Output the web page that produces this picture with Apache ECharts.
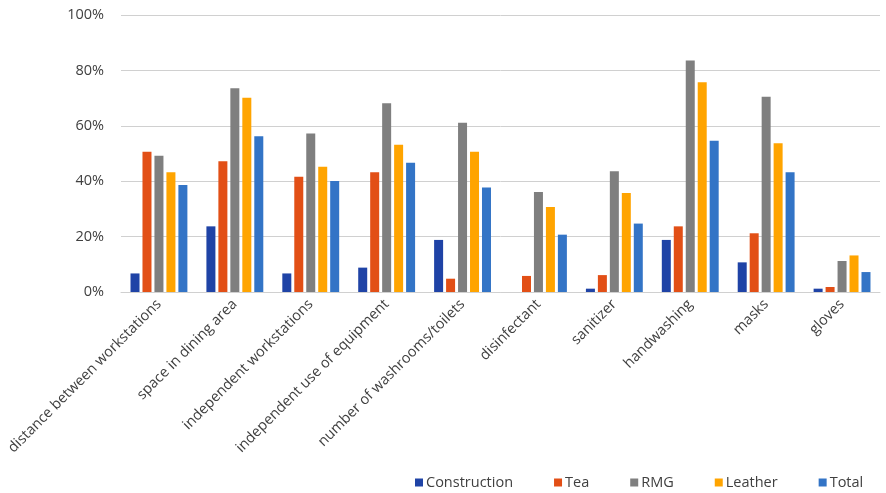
<!DOCTYPE html>
<html><head><meta charset="utf-8">
<script src="https://cdn.jsdelivr.net/npm/echarts@6/dist/echarts.min.js"></script>
<style>html,body{margin:0;padding:0;background:#fff}#c{width:886px;height:493px}</style>
</head><body><div id="c"></div>
<script>
const categories = ["distance between workstations","space in dining area","independent workstations","independent use of equipment","number of washrooms/toilets","disinfectant","sanitizer","handwashing","masks","gloves"];
const construction = [6.7, 23.7, 6.7, 8.8, 18.8, 0, 1.2, 18.8, 10.7, 1.2];
const tea = [50.6, 47.2, 41.6, 43.2, 4.8, 5.8, 6.1, 23.7, 21.2, 1.8];
const rmg = [49.2, 73.6, 57.2, 68.1, 61.1, 36.1, 43.6, 83.6, 70.5, 11.2];
const leather = [43.2, 70.1, 45.2, 53.2, 50.6, 30.7, 35.7, 75.7, 53.7, 13.2];
const total = [38.6, 56.2, 40.1, 46.7, 37.7, 20.7, 24.7, 54.6, 43.2, 7.2];
const seriesNames = ["Construction","Tea","RMG","Leather","Total"];
const colors = ["#1f43a6","#e24f16","#7f7f7f","#ffa400","#3374c6"];
const values = [construction, tea, rmg, leather, total];

const chart = echarts.init(document.getElementById('c'));
const font = "'Open Sans', sans-serif";
chart.setOption({
  animation: false,
  textStyle: {fontFamily: font},
  grid: {left: 121, right: 6, top: 15, bottom: 201, containLabel: false},
  legend: {
    top: 470, left: 410,
    itemWidth: 8, itemHeight: 8, itemGap: 41,
    icon: 'rect',
    textStyle: {fontFamily: font, fontSize: 14.5, color: '#404040', padding: [0,0,0,-2]},
    data: seriesNames
  },
  xAxis: {
    type: 'category', data: categories,
    axisTick: {show: false},
    axisLine: {lineStyle: {color: '#d0d0d0'}},
    axisLabel: {rotate: 45, interval: 0, fontSize: 14.5, color: '#404040', fontFamily: font, margin: 10}
  },
  yAxis: {
    type: 'value', min: 0, max: 100, interval: 20,
    axisLabel: {formatter: '{value}%', fontSize: 14.5, color: '#404040', margin: 17, fontFamily: font},
    splitLine: {lineStyle: {color: '#d0d0d0', width: 1}},
    axisLine: {show: false}, axisTick: {show: false}
  },
  series: seriesNames.map((n, i) => ({
    name: n, type: 'bar', data: values[i],
    barWidth: 9, barGap: '33%',
    itemStyle: {color: colors[i]}
  }))
});
</script></body></html>
